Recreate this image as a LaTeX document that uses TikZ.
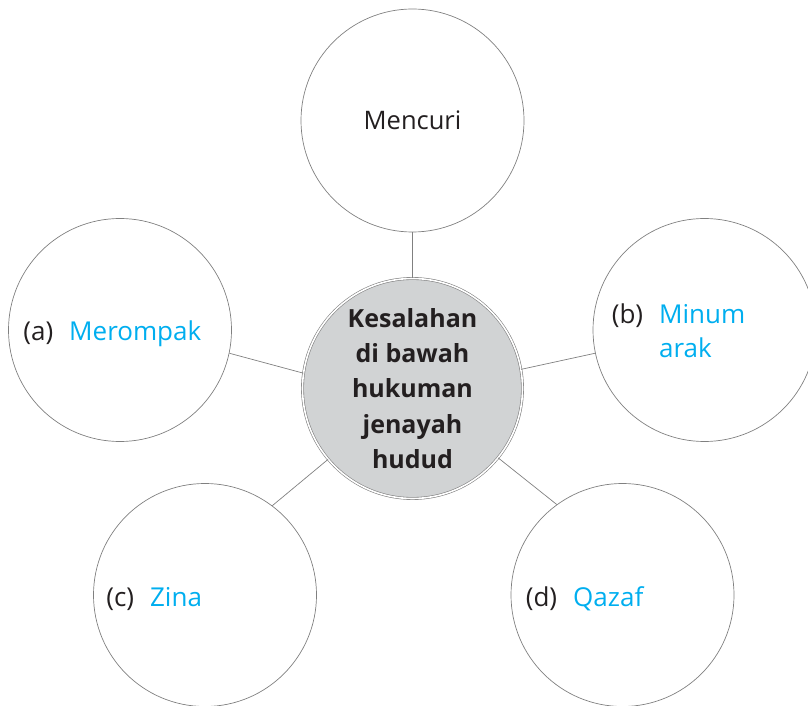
\documentclass[tikz,border=0pt]{standalone}
\usepackage{fontspec}
\setmainfont{Open Sans}
\usetikzlibrary{positioning}
\definecolor{ringgray}{HTML}{808080}
\definecolor{hubfill}{HTML}{D1D3D4}
\definecolor{answer}{HTML}{00AEEF}
\definecolor{inkblack}{HTML}{231F20}

\begin{document}
\begin{tikzpicture}[x=1pt, y=1pt,
  bubble/.style={circle, draw=ringgray, line width=0.7pt, minimum size=223pt,
    inner sep=0pt, text=inkblack, font=\fontsize{25.5}{34}\selectfont},
  hub/.style={bubble, fill=hubfill, double=white, double distance=1.6pt,
    line width=0.6pt, minimum size=220pt, align=center,
    font=\fontsize{25}{35.4}\selectfont\bfseries},
  item/.style={inner sep=0pt, text=inkblack, yshift=-4pt,
    font=\fontsize{26}{34}\selectfont},
  link/.style={draw=ringgray, line width=0.7pt}
]
\useasboundingbox (0,0) rectangle (808,705);
\node[hub] (centre) at (412.5,316.5)
  {Kesalahan\\di bawah\\hukuman\\jenayah\\hudud};
\node[bubble] (top) at (412.5,584.5) {Mencuri};
\node[bubble] (a) at (120,375) {};
\node[bubble] (b) at (704.5,375) {};
\node[bubble] (c) at (205,110) {};
\node[bubble] (d) at (622.5,110) {};
% answers
\node[item, right=15pt of a.west] (a-text)
  {(a)\hspace{16pt}\textcolor{answer}{Merompak}};
\node[item, right=19pt of b.west] (b-text)
  {\begin{tabular}{@{}l@{\hspace{16pt}}l@{}}(b) & \textcolor{answer}{Minum}\\
   & \textcolor{answer}{arak}\end{tabular}};
\node[item, right=13pt of c.west] (c-text)
  {(c)\hspace{16pt}\textcolor{answer}{Zina}};
\node[item, right=15pt of d.west] (d-text)
  {(d)\hspace{16pt}\textcolor{answer}{Qazaf}};
% connectors
\draw[link] (centre.north) -- (top.south);
\draw[link] (centre.172) -- (a.-12);
\draw[link] (centre.10) -- (b.192);
\draw[link] (centre.220) -- (c.53);
\draw[link] (centre.-39) -- (d.126);
\end{tikzpicture}
\end{document}
